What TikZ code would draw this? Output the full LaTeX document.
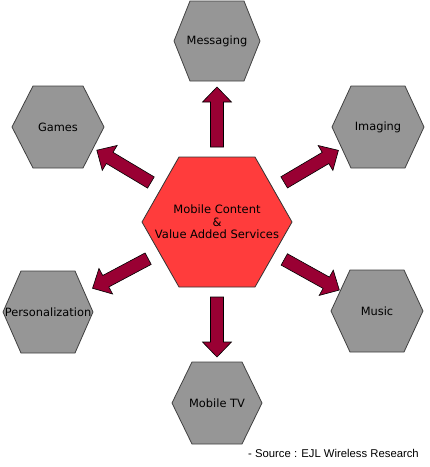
\documentclass[tikz,border=0pt]{standalone}
\usepackage{fontspec}
\setmainfont{DejaVu Sans}
\newfontfamily\srcfont{Liberation Sans}
\usetikzlibrary{calc}
\definecolor{hexgray}{RGB}{150,150,150}
\definecolor{hexred}{RGB}{255,60,60}
\definecolor{arrred}{RGB}{153,0,51}
\newcommand\hexat[5]{% center, half width, half height, half top edge, style
  \draw[#5] ($(#1)+(-#2,0)$) -- ($(#1)+(-#4,-#3)$) -- ($(#1)+(#4,-#3)$) --
    ($(#1)+(#2,0)$) -- ($(#1)+(#4,#3)$) -- ($(#1)+(-#4,#3)$) -- cycle;}
\newcommand\blockarrow[4]{% from, to, tail distance, tip distance
  \coordinate (ba-A) at ($(#1)!#3!(#2)$);
  \coordinate (ba-B) at ($(#1)!#4!(#2)$);
  \coordinate (ba-H) at ($(ba-B)!15pt!(ba-A)$);
  \draw[blockarr] ($(ba-A)!6.5pt!90:(ba-B)$) -- ($(ba-H)!6.5pt!90:(ba-B)$) --
    ($(ba-H)!14.5pt!90:(ba-B)$) -- (ba-B) -- ($(ba-H)!14.5pt!-90:(ba-B)$) --
    ($(ba-H)!6.5pt!-90:(ba-B)$) -- ($(ba-A)!6.5pt!-90:(ba-B)$) -- cycle;}
\tikzset{
  outerhex/.style={fill=hexgray, draw=black!75, line width=0.8pt},
  centerhex/.style={fill=hexred, draw=black!80, line width=0.8pt},
  blockarr/.style={fill=arrred, draw=black, line width=0.6pt, line join=miter},
  lbl/.style={inner sep=0pt, text=black, font=\fontsize{11.4}{13}\selectfont},
}
\begin{document}
\begin{tikzpicture}[x=1pt,y=-1pt]
\useasboundingbox (0,0) rectangle (430,467);
\coordinate (pc) at (217,222);
\coordinate (pmsg) at (217,41);
\coordinate (pgam) at (58,127);
\coordinate (pimg) at (378,127);
\coordinate (pper) at (48,312);
\coordinate (pmus) at (377,311);
\coordinate (ptv) at (217,403);
\hexat{pc}{75}{65}{38}{centerhex}
\hexat{pmsg}{43}{40}{27}{outerhex}
\hexat{pgam}{46}{41}{25}{outerhex}
\hexat{pimg}{46}{41}{27}{outerhex}
\hexat{pper}{45}{41}{27}{outerhex}
\hexat{pmus}{46}{41}{27}{outerhex}
\hexat{ptv}{45}{41}{25}{outerhex}
\node[lbl, align=center, font=\fontsize{11.5}{12.5}\selectfont] (c) at (pc) {Mobile Content\\\&\\Value Added Services};
\node[lbl] (msg) at (pmsg) {Messaging};
\node[lbl] (gam) at (pgam) {Games};
\node[lbl] (img) at (pimg) {Imaging};
\node[lbl] (per) at (pper) {Personalization};
\node[lbl] (mus) at (pmus) {Music};
\node[lbl] (tv) at (ptv) {Mobile TV};
\blockarrow{pc}{pmsg}{75pt}{135pt}
\blockarrow{pc}{ptv}{75pt}{135pt}
\blockarrow{pc}{pgam}{77pt}{140pt}
\blockarrow{pc}{pimg}{78pt}{141pt}
\blockarrow{pc}{pper}{78pt}{141pt}
\blockarrow{pc}{pmus}{77pt}{140pt}
\node[anchor=base west, inner sep=0pt, font=\srcfont\fontsize{11.3}{13}\selectfont] (src) at (248,457) {- Source : EJL Wireless Research};
\end{tikzpicture}
\end{document}
